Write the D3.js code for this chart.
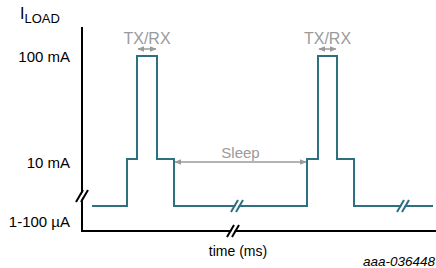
<!DOCTYPE html>
<html lang="en">
<head>
<meta charset="UTF-8">
<title>Load current profile</title>
<script src="https://d3js.org/d3.v7.min.js"></script>
<style>
  body, html { margin: 0; background: #ffffff; }
  svg { display: block; }
  text { font-family: 'Liberation Sans', Arial, sans-serif; }
  .lvl { font-size: 15px; fill: #000; text-anchor: end; }
  .note { fill: #9a9a9a; text-anchor: middle; }
</style>
</head>
<body>
<svg width="436" height="268"></svg>
<script>
// level labels (index 0 = sleep current)
const levelLabels = ["1-100 µA", "10 mA", "100 mA"];
// step waveform: time (arbitrary units) and level index
const stepTimes = [10, 45, 55, 75, 92, 225, 236, 255, 272, 351];
const stepLevels = [0, 1, 2, 1, 0, 1, 2, 1, 0, 0];
// time-axis breaks on the waveform and the axis
const waveBreaks = [155, 321];
const axisBreak = 151;
// annotations
const txrxBursts = [[55, 75], [236, 255]];
const sleepSpan = [92, 225];

const teal = "#2d7080", grey = "#9a9a9a";
const svg = d3.select("svg");

const x = d3.scaleLinear().domain([0, 354]).range([82, 436]);
const y = d3.scaleLinear().domain([0, 1, 2]).range([206, 159, 56]);
const labelY = d3.scaleLinear().domain([0, 1, 2]).range([222, 163, 57]);

const defs = svg.append("defs");
defs.append("marker").attr("id", "ah")
  .attr("viewBox", "0 0 10 10").attr("refX", 9).attr("refY", 5)
  .attr("markerWidth", 7).attr("markerHeight", 7).attr("orient", "auto-start-reverse")
  .attr("markerUnits", "userSpaceOnUse")
  .append("path").attr("d", "M0,1 L10,5 L0,9 Z").attr("fill", grey);

// axes
svg.append("path")
  .attr("d", `M${x(0)},27 V231 H436`)
  .attr("fill", "none").attr("stroke", "#000").attr("stroke-width", 2);

// waveform
const line = d3.line().x(d => x(d[0])).y(d => y(d[1])).curve(d3.curveStepAfter);
svg.append("path")
  .datum(stepTimes.map((t, i) => [t, stepLevels[i]]))
  .attr("d", line)
  .attr("fill", "none").attr("stroke", teal).attr("stroke-width", 2);

function brk(cx, cy, color) {
  const g = svg.append("g");
  g.append("path").attr("d", `M${cx - 5},${cy + 6} L${cx + 2},${cy - 6} L${cx + 5},${cy - 6} L${cx - 2},${cy + 6} Z`)
    .attr("fill", "#fff");
  [-2.5, 2.5].forEach(o => {
    g.append("line")
      .attr("x1", cx + o - 3.5).attr("y1", cy + 6)
      .attr("x2", cx + o + 3.5).attr("y2", cy - 6)
      .attr("stroke", color).attr("stroke-width", 2);
  });
}
waveBreaks.forEach(t => brk(x(t), y(0), teal));
brk(x(axisBreak), 231, "#000");
// y-axis break
brk(x(0), 196, "#000");

// level labels
svg.selectAll("text.lvl").data(levelLabels).join("text")
  .attr("class", "lvl")
  .attr("x", 70).attr("y", (d, i) => labelY(i)).attr("dy", "0.35em")
  .text(d => d);

// y title
const yt = svg.append("text").attr("x", 20).attr("y", 19).attr("font-size", 16);
yt.append("tspan").text("I");
yt.append("tspan").attr("font-size", 13).attr("dy", 4).text("LOAD");

// TX/RX annotations
txrxBursts.forEach(b => {
  svg.append("text").attr("class", "note").attr("font-size", 16)
    .attr("x", x((b[0] + b[1]) / 2)).attr("y", 44).text("TX/RX");
  svg.append("line")
    .attr("x1", x(b[0]) + 1).attr("x2", x(b[1]) - 1).attr("y1", 49).attr("y2", 49)
    .attr("stroke", grey).attr("stroke-width", 1.5)
    .attr("marker-start", "url(#ah)").attr("marker-end", "url(#ah)");
});

// sleep annotation
svg.append("line")
  .attr("x1", x(sleepSpan[0]) + 1).attr("x2", x(sleepSpan[1]) - 1).attr("y1", 162).attr("y2", 162)
  .attr("stroke", grey).attr("stroke-width", 1.5)
  .attr("marker-start", "url(#ah)").attr("marker-end", "url(#ah)");
svg.append("text").attr("class", "note").attr("font-size", 15)
  .attr("x", x((sleepSpan[0] + sleepSpan[1]) / 2)).attr("y", 158).text("Sleep");

// x title
svg.append("text").attr("x", 238).attr("y", 256).attr("text-anchor", "middle")
  .attr("font-size", 14).text("time (ms)");

svg.append("text").attr("x", 435).attr("y", 266).attr("text-anchor", "end")
  .attr("font-size", 13.5).attr("font-style", "italic").text("aaa-036448");
</script>
</body>
</html>
